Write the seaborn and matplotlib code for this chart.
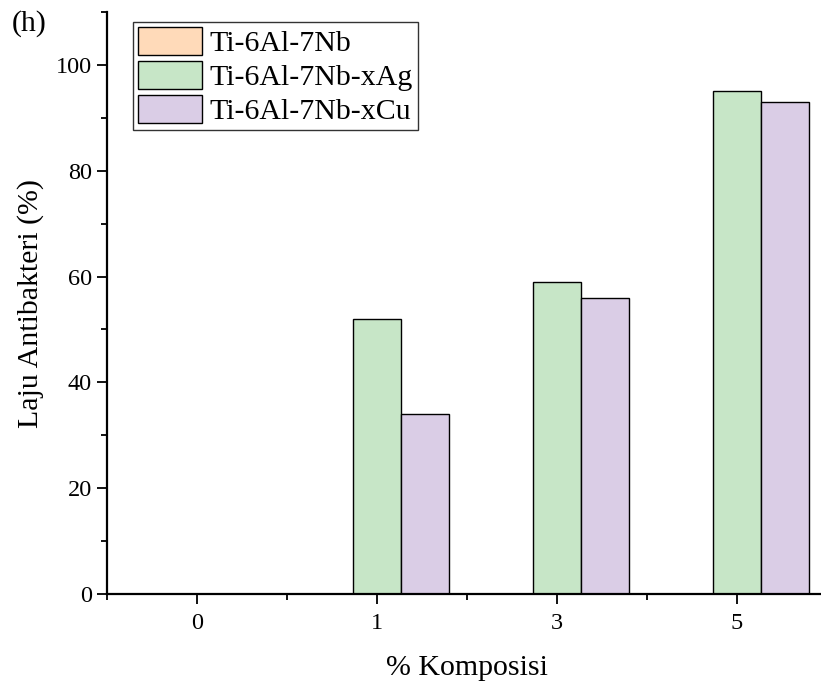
import pandas as pd
import seaborn as sns
import matplotlib.pyplot as plt
from matplotlib.ticker import MultipleLocator, FixedLocator

komposisi = ['0', '1', '3', '5']
paduan = ['Ti-6Al-7Nb', 'Ti-6Al-7Nb-xAg', 'Ti-6Al-7Nb-xCu']
laju_base = [0, 0, 0, 0]
laju_ag = [0, 52, 59, 95]
laju_cu = [0, 34, 56, 93]
warna = ['#FFDAB9', '#C7E6C7', '#DACDE6']

df = pd.DataFrame({
    'komposisi': komposisi * 3,
    'paduan': [paduan[0]] * 4 + [paduan[1]] * 4 + [paduan[2]] * 4,
    'laju': laju_base + laju_ag + laju_cu,
})

sns.set_style('ticks')
plt.rcParams['font.family'] = ['Liberation Serif', 'DejaVu Serif']
plt.rcParams['font.size'] = 17
# everything black like the original
for k in ['text.color', 'axes.labelcolor', 'xtick.color', 'ytick.color', 'axes.edgecolor']:
    plt.rcParams[k] = 'black'

fig = plt.figure(figsize=(8.21, 6.89), dpi=100)
ax = fig.add_axes([107 / 821, 95 / 689, 720 / 821, 582 / 689])

sns.barplot(data=df, x='komposisi', y='laju', hue='paduan', order=komposisi,
            hue_order=paduan, palette=warna, width=0.8, edgecolor='black',
            linewidth=1.0, saturation=1, ax=ax)

ax.set_xlim(-0.5, 3.5)
ax.set_ylim(0, 110)
ax.yaxis.set_major_locator(MultipleLocator(20))
ax.yaxis.set_minor_locator(MultipleLocator(10))
ax.xaxis.set_minor_locator(FixedLocator([-0.5, 0.5, 1.5, 2.5, 3.5]))
ax.tick_params(which='major', length=7, width=1.3, labelsize=17.5, direction='out')
ax.tick_params(which='minor', length=4, width=1.3, direction='out')
ax.tick_params(axis='x', pad=7)
ax.tick_params(axis='y', pad=4)

for s in ['top', 'right']:
    ax.spines[s].set_visible(False)
for s in ['left', 'bottom']:
    ax.spines[s].set_linewidth(1.6)

ax.set_xlabel('% Komposisi', fontsize=21.5, labelpad=15)
ax.set_ylabel('Laju Antibakteri (%)', fontsize=21.5, labelpad=8)

leg = ax.legend(loc='upper left', bbox_to_anchor=(133 / 821, 1 - 22 / 689),
                bbox_transform=fig.transFigure, frameon=True,
                fancybox=False, edgecolor='black', fontsize=21.5,
                handlelength=2.15, handleheight=1.08, labelspacing=0.13,
                handletextpad=0.25, borderpad=0.16, borderaxespad=0)
leg.get_frame().set_linewidth(1.0)
for p in leg.get_patches():
    p.set_edgecolor('black')

fig.text(12 / 821, 1 - 10 / 689, '(h)', fontsize=21.5, va='top')

fig.savefig('out.png', dpi=100)
